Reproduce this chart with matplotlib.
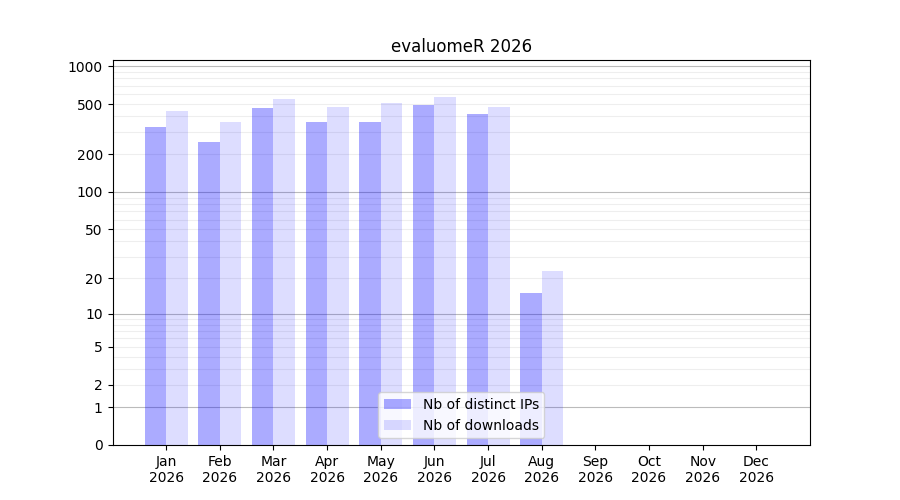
import numpy as np
import matplotlib
matplotlib.use('Agg')
import matplotlib.pyplot as plt


# 데이터
months = ['Jan', 'Feb', 'Mar', 'Apr', 'May', 'Jun', 'Jul', 'Aug', 'Sep', 'Oct', 'Nov', 'Dec']
year = '2026'
distinct_ips = [329, 250, 465, 360, 360, 491, 417, 15, 0, 0, 0, 0]
downloads = [440, 360, 548, 474, 510, 569, 474, 23, 0, 0, 0, 0]
y_ticks = [0, 1, 2, 5, 10, 20, 50, 100, 200, 500, 1000]


def fwd(y):
    return np.log10(np.asarray(y, dtype=float) + 1)


def inv(y):
    return 10 ** np.asarray(y, dtype=float) - 1


fig, ax = plt.subplots(figsize=(9, 5), dpi=100)
ax.set_yscale('function', functions=(fwd, inv))

x = np.arange(len(months))
ax.bar(x - 0.2, distinct_ips, width=0.4, color=(0, 0, 1, 0.33), label='Nb of distinct IPs')
ax.bar(x + 0.2, downloads, width=0.4, color=(0, 0, 1, 0.133), label='Nb of downloads')

# 격자선
for p in [1, 10, 100, 1000]:
    ax.axhline(p, color='#bbbbbb', linewidth=0.8, zorder=0)
for k in [1, 10, 100]:
    for m in range(2, 10):
        ax.axhline(m * k, color='#eeeeee', linewidth=0.8, zorder=0)

ax.set_yticks(y_ticks)
ax.set_yticklabels([str(t) for t in y_ticks])
ax.minorticks_off()
ax.set_ylim(0, inv(3.05))

ax.set_xticks(x)
ax.set_xticklabels([m + '\n' + year for m in months])
ax.set_xlim(-1, 12)

ax.set_title('evaluomeR 2026')
ax.legend(loc='lower center')

plt.savefig('out.png')
